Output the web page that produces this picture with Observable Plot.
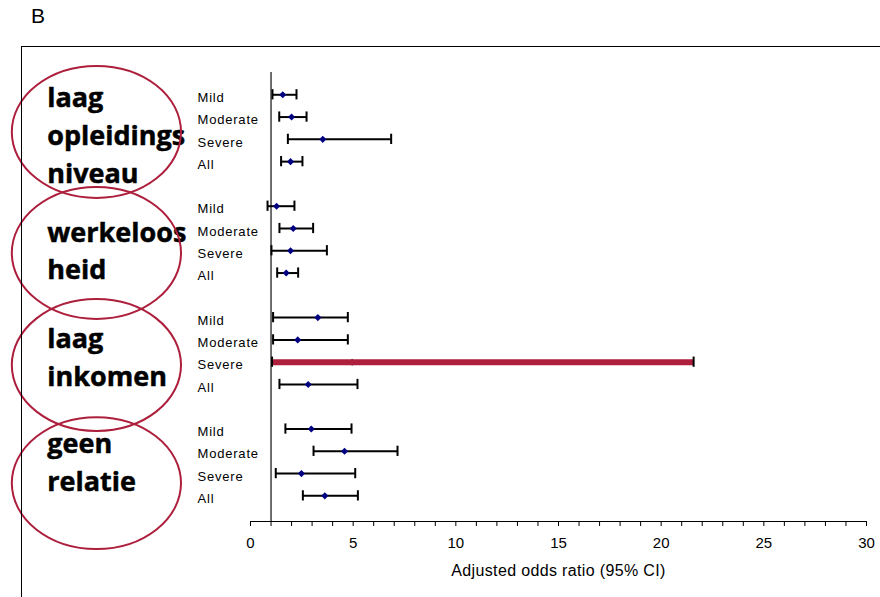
<!DOCTYPE html>
<html><head><meta charset="utf-8">
<script src="https://cdn.jsdelivr.net/npm/d3@7"></script>
<script src="https://cdn.jsdelivr.net/npm/@observablehq/plot@0.6"></script>
<style>
html,body{margin:0;padding:0;background:#fff;overflow:hidden;}
#wrap{position:relative;width:880px;height:597px;}
#chart{position:absolute;left:0;top:0;}
#panel{position:absolute;left:31px;top:5px;font:21px "Liberation Sans",Arial,sans-serif;line-height:1;}
#box{position:absolute;left:21px;top:46px;width:900px;height:600px;border-left:1.5px solid #000;border-top:1.5px solid #000;pointer-events:none;}
</style></head><body>
<div id="wrap"><div id="chart"></div><div id="box"></div><div id="panel">B</div></div>
<script>
// ---- data ----
const severities = ["Mild", "Moderate", "Severe", "All"];
const groupLabels = ["laag\nopleidings\nniveau", "werkeloos\nheid", "laag\ninkomen", "geen\nrelatie"];
const estimate = [
  [1.57, 2.00, 3.52, 1.95],
  [1.27, 2.08, 1.95, 1.74],
  [3.28, 2.30, 4.95, 2.81],
  [2.96, 4.58, 2.48, 3.62]
];
const lower = [
  [1.07, 1.40, 1.82, 1.49],
  [0.83, 1.41, 1.02, 1.30],
  [1.10, 1.10, 1.05, 1.41],
  [1.70, 3.07, 1.23, 2.55]
];
const upper = [
  [2.24, 2.73, 6.85, 2.53],
  [2.14, 3.05, 3.72, 2.32],
  [4.74, 4.74, 21.58, 5.21],
  [4.92, 7.16, 5.10, 5.23]
];
const highlighted = [[2, 2]]; // laag inkomen – Severe
const xTicks = d3.range(0, 31);
const axisTitle = "Adjusted odds ratio (95% CI)";
const referenceLine = [1];

// annotation placement (in x-units / row-units)
const groupTextX = -9.9;
const groupTextY = [2.72, 7.89, 12.69, 17.37];
const ellipseCX = -7.48, ellipseRX = 4.12, ellipseRY = 2.96;
const ellipseCY = [2.69, 8.12, 13.15, 18.45];

// ---- table ----
const rows = [];
groupLabels.forEach((g, gi) => severities.forEach((s, si) => rows.push({
  group: gi, label: s, row: 1 + gi * 5 + si,
  est: estimate[gi][si], lo: lower[gi][si], hi: upper[gi][si],
  highlight: highlighted.some(([a, b]) => a === gi && b === si)
})));
const yMax = 20.15;
const red = "#ad1f3c";

const plot = Plot.plot({
  width: 880, height: 597,
  marginLeft: 250, marginRight: 14, marginTop: 72, marginBottom: 76,
  style: {fontFamily: '"Liberation Sans", Arial, sans-serif', fontSize: "15px", background: "transparent", overflow: "visible"},
  x: {domain: [0, 30], ticks: xTicks, tickFormat: d => d % 5 === 0 ? String(d) : "", tickSize: 5, tickPadding: 11, label: null},
  y: {domain: [0, yMax], reverse: true, axis: null},
  marks: [
    Plot.ruleY([yMax], {x1: 0, x2: 30, stroke: "#000", strokeWidth: 1}),
    Plot.ruleX(referenceLine, {stroke: "#222", strokeWidth: 1.3}),
    Plot.ruleY(rows, {y: "row", x1: "lo", x2: "hi", stroke: "#000", strokeWidth: 2}),
    Plot.dot(rows, {x: "est", y: "row", symbol: d3.symbolDiamond2, r: 3.2, fill: "#000080", stroke: "none"}),
    Plot.ruleY(rows.filter(d => d.highlight), {y: "row", x1: "lo", x2: "hi", stroke: red, strokeWidth: 6}),
    Plot.ruleX(rows, {x: "lo", y1: d => d.row - 0.23, y2: d => d.row + 0.23, stroke: "#000", strokeWidth: 2}),
    Plot.ruleX(rows, {x: "hi", y1: d => d.row - 0.23, y2: d => d.row + 0.23, stroke: "#000", strokeWidth: 2}),
    Plot.text(rows, {y: "row", text: "label", frameAnchor: "left", dx: -53, dy: 3, textAnchor: "start", fontSize: 13}),
    Plot.text(groupLabels, {x: groupTextX, y: (d, i) => groupTextY[i], text: d => d, textAnchor: "start", lineAnchor: "middle", lineHeight: 1.4, fontSize: 27, fontWeight: "bold", fontFamily: "Open Sans", fill: "#000", stroke: "#000", strokeWidth: 0.5}),
    Plot.text([axisTitle], {frameAnchor: "bottom", dy: 54, fontSize: 16, text: d => d})
  ]
});
document.getElementById("chart").appendChild(plot);

const sxs = plot.scale("x"), sys = plot.scale("y");
const fx = sxs.apply ? v => sxs.apply(v) : d3.scaleLinear(sxs.domain, sxs.range);
const fy = sys.apply ? v => sys.apply(v) : d3.scaleLinear(sys.domain, sys.range);
d3.select(plot).append("g").attr("fill", "none").attr("stroke", red).attr("stroke-width", 2)
  .selectAll("ellipse").data(ellipseCY).join("ellipse")
  .attr("cx", fx(ellipseCX)).attr("cy", d => fy(d))
  .attr("rx", Math.abs(fx(ellipseCX + ellipseRX) - fx(ellipseCX)))
  .attr("ry", Math.abs(fy(ellipseRY) - fy(0)));
d3.select(plot).selectAll("text")
  .filter(function() { return severities.includes(this.textContent); })
  .style("letter-spacing", "0.8px");
d3.select(plot).selectAll("text")
  .filter(function() { return this.textContent === axisTitle; })
  .style("letter-spacing", "0.35px");
</script>
</body></html>
